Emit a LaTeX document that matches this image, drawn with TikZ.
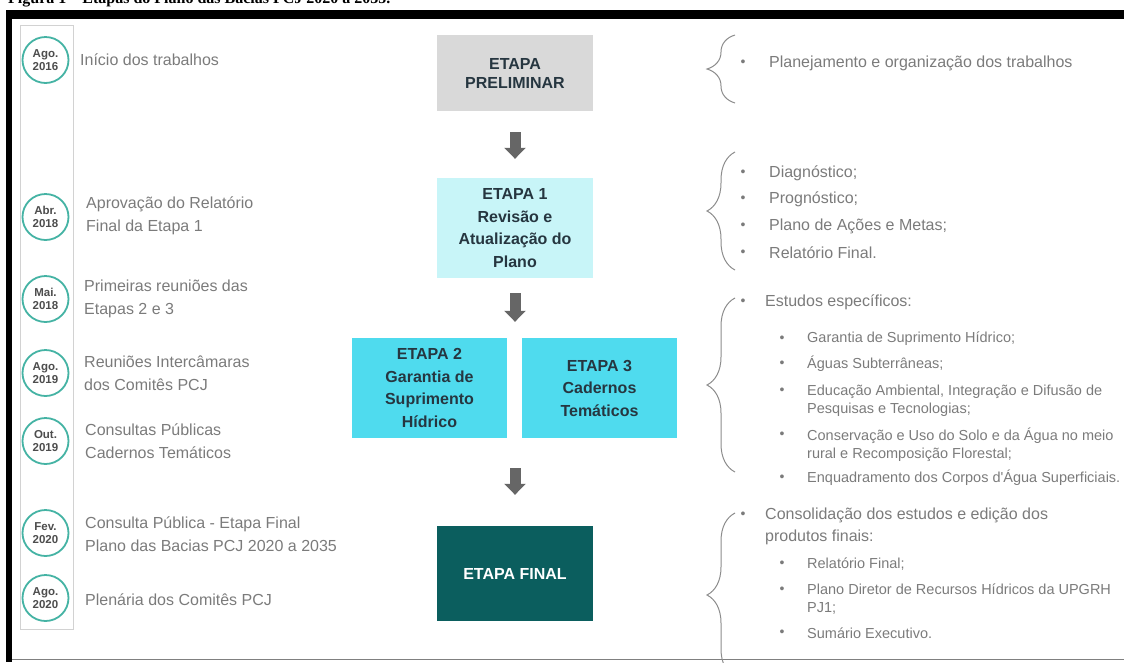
\documentclass[tikz,border=0pt]{standalone}
\usepackage{fontspec}
\setmainfont{Liberation Sans}[Ligatures=TeXOff]
\newfontfamily\captionserif{Liberation Serif}
\usepackage{tikz}
\usetikzlibrary{arrows.meta, decorations.pathreplacing}

\definecolor{eventgray}{HTML}{7B7B7B}
\definecolor{dategray}{HTML}{4D4D4D}
\definecolor{dateteal}{HTML}{45B3A4}
\definecolor{boxtext}{HTML}{263640}
\definecolor{prelimgray}{HTML}{D9D9D9}
\definecolor{etapalight}{HTML}{C8F5F8}
\definecolor{etapacyan}{HTML}{4FDBEE}
\definecolor{etapadark}{HTML}{0B5E5E}
\definecolor{arrowgray}{HTML}{666666}
\definecolor{bracegray}{HTML}{8C8C8C}
\definecolor{linegray}{HTML}{D2D2D2}

\tikzset{
  datecircle/.style={circle, draw=dateteal, line width=1.8pt, fill=white, minimum size=46pt, inner sep=0pt, align=center, text=dategray, font=\fontsize{11.5}{13.5}\selectfont\bfseries},
  eventtext/.style={anchor=west, align=left, inner sep=0pt, text=eventgray, font=\fontsize{16}{22.5}\selectfont},
  etapabox/.style={inner sep=0pt, align=center, text=boxtext, font=\fontsize{16}{22.5}\selectfont\bfseries},
  stagearrow/.style={draw=arrowgray, line width=11pt, -{Triangle[width=21pt,length=11pt]}},
  itembrace/.style={decorate, decoration={brace, amplitude=28pt}, draw=bracegray, line width=1pt},
  bulletdot/.style={anchor=center, inner sep=0pt, text=eventgray, font=\fontsize{14}{14}\selectfont},
  bulletitem/.style={anchor=west, align=left, inner sep=0pt, text=eventgray, font=\fontsize{16}{22}\selectfont},
  subbulletitem/.style={anchor=west, align=left, inner sep=0pt, text=eventgray, font=\fontsize{14.5}{18.5}\selectfont}
}

\begin{document}
\begin{tikzpicture}[x=1pt, y=-1pt]
\useasboundingbox (0,0) rectangle (1124,662);
\begin{scope}
\clip (0,0) rectangle (1124,662);

% cut caption and frame
\node[anchor=base west, inner sep=0pt, font=\captionserif\bfseries\fontsize{16}{16}\selectfont] (caption) at (8,3) {Figura 1 – Etapas do Plano das Bacias PCJ 2020 a 2035.};
\fill[black] (6,10) rectangle (1124,19);
\fill[black] (6,10) rectangle (12,662);
\draw[gray, line width=1pt] (12,659) -- (1124,659);

% timeline
\draw[linegray, line width=1pt] (20,25) rectangle (73,629);
\node[datecircle] (ago16) at (45.5,60) {Ago.\\2016};
\node[datecircle] (abr18) at (45.5,217) {Abr.\\2018};
\node[datecircle] (mai18) at (45.5,299) {Mai.\\2018};
\node[datecircle] (ago19) at (45.5,373) {Ago.\\2019};
\node[datecircle] (out19) at (45.5,441) {Out.\\2019};
\node[datecircle] (fev20) at (45.5,533) {Fev.\\2020};
\node[datecircle] (ago20) at (45.5,598) {Ago.\\2020};

\node[eventtext] (inicio) at (80,60) {Início dos trabalhos};
\node[eventtext] (aprovacao) at (86,216) {Aprovação do Relatório\\Final da Etapa 1};
\node[eventtext] (reunioes) at (84,299) {Primeiras reuniões das\\Etapas 2 e 3};
\node[eventtext] (intercamaras) at (84,373) {Reuniões Intercâmaras\\dos Comitês PCJ};
\node[eventtext] (consultas) at (85,441) {Consultas Públicas\\Cadernos Temáticos};
\node[eventtext] (consultafinal) at (85,534) {Consulta Pública - Etapa Final\\Plano das Bacias PCJ 2020 a 2035};
\node[eventtext] (plenaria) at (85,600) {Plenária dos Comitês PCJ};

% etapas
\node[etapabox, fill=prelimgray, minimum width=156pt, minimum height=76pt, font=\fontsize{16}{19}\selectfont\bfseries] (prelim) at (515,73) {ETAPA\\PRELIMINAR};
\node[etapabox, fill=etapalight, minimum width=156pt, minimum height=100pt] (etapa1) at (515,228) {ETAPA 1\\Revisão e\\Atualização do\\Plano};
\node[etapabox, fill=etapacyan, minimum width=155pt, minimum height=100pt] (etapa2) at (429.5,388) {ETAPA 2\\Garantia de\\Suprimento\\Hídrico};
\node[etapabox, fill=etapacyan, minimum width=155pt, minimum height=100pt] (etapa3) at (599.5,388) {ETAPA 3\\Cadernos\\Temáticos};
\node[etapabox, fill=etapadark, minimum width=156pt, minimum height=95pt, text=white] (final) at (515,573.5) {ETAPA FINAL};

\draw[stagearrow, shorten <=21pt, shorten >=19pt] (prelim.south) -- (etapa1.north);
\draw[stagearrow, shorten <=15pt, shorten >=16pt] (etapa1.south) -- (etapa1.south |- etapa2.north);
\draw[stagearrow, shorten <=30pt, shorten >=31pt] (final.north |- etapa2.south) -- (final.north);

% atividades
\draw[itembrace] (735,103) -- (735,35);
\node[bulletdot] at (743,63) {•};
\node[bulletitem] (planejamento) at (769,63) {Planejamento e organização dos trabalhos};

\draw[itembrace] (735,270) -- (735,152);
\node[bulletdot] at (743,173) {•};
\node[bulletitem] (diagnostico) at (769,173) {Diagnóstico;};
\node[bulletdot] at (743,199) {•};
\node[bulletitem] (prognostico) at (769,199) {Prognóstico;};
\node[bulletdot] at (743,226) {•};
\node[bulletitem] (acoes) at (769,226) {Plano de Ações e Metas;};
\node[bulletdot] at (743,253) {•};
\node[bulletitem] (relatorio) at (769,253) {Relatório Final.};

\draw[itembrace] (735,472) -- (735,298);
\node[bulletdot] at (743,302) {•};
\node[bulletitem] (estudos) at (765,302) {Estudos específicos:};
\node[bulletdot] at (782,339) {•};
\node[subbulletitem] (garantia) at (807,339) {Garantia de Suprimento Hídrico;};
\node[bulletdot] at (782,364) {•};
\node[subbulletitem] (aguas) at (807,364) {Águas Subterrâneas;};
\node[bulletdot] at (782,391) {•};
\node[subbulletitem] (educacao) at (807,400.5) {Educação Ambiental, Integração e Difusão de\\Pesquisas e Tecnologias;};
\node[bulletdot] at (782,435) {•};
\node[subbulletitem] (conservacao) at (807,444.5) {Conservação e Uso do Solo e da Água no meio\\rural e Recomposição Florestal;};
\node[bulletdot] at (782,478) {•};
\node[subbulletitem] (enquadramento) at (807,478) {Enquadramento dos Corpos d'Água Superficiais.};

\draw[itembrace] (735,677) -- (735,513);
\node[bulletdot] at (743,515) {•};
\node[bulletitem] (consolidacao) at (765,526) {Consolidação dos estudos e edição dos\\produtos finais:};
\node[bulletdot] at (782,564) {•};
\node[subbulletitem] (relfinal) at (807,564) {Relatório Final;};
\node[bulletdot] at (782,590) {•};
\node[subbulletitem] (diretor) at (807,599) {Plano Diretor de Recursos Hídricos da UPGRH\\PJ1;};
\node[bulletdot] at (782,633) {•};
\node[subbulletitem] (sumario) at (807,633) {Sumário Executivo.};
\end{scope}
\end{tikzpicture}
\end{document}
